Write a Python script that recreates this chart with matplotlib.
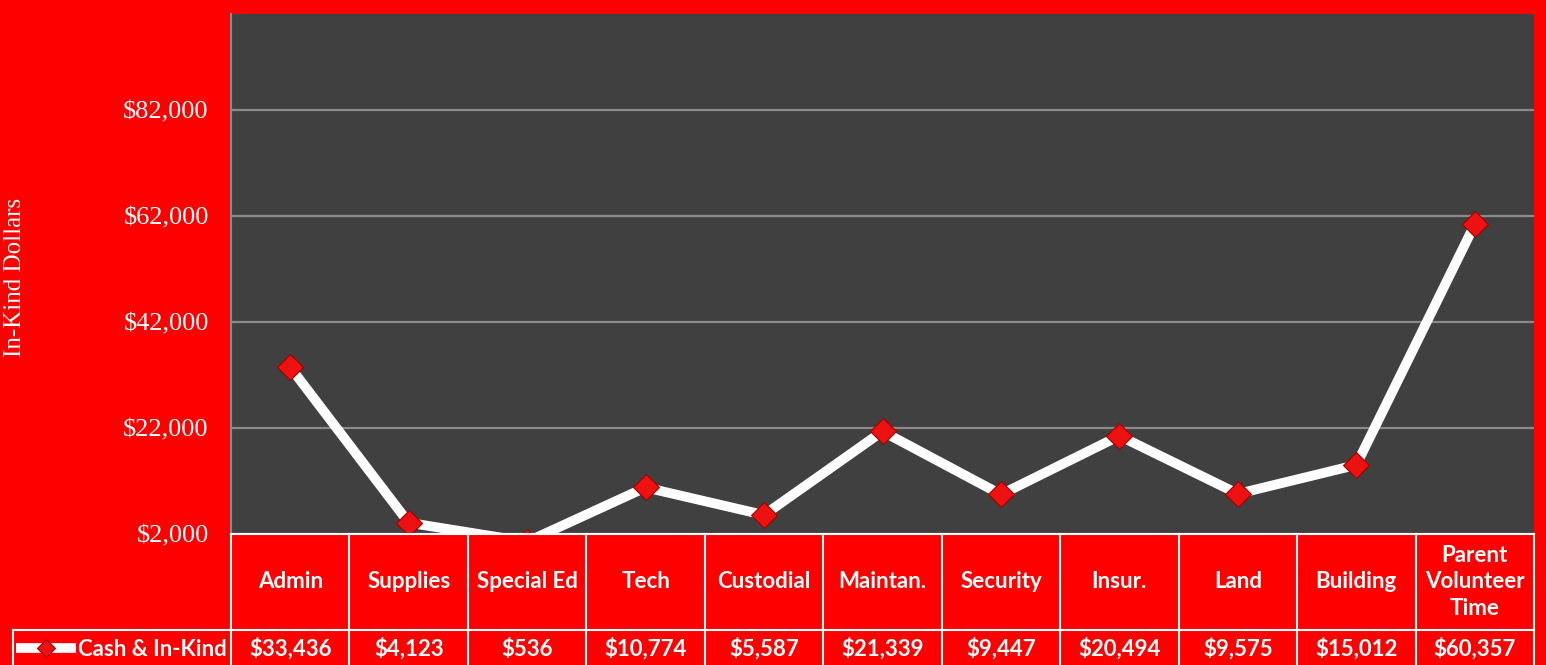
import matplotlib
matplotlib.use("Agg")
import matplotlib.pyplot as plt
from matplotlib.ticker import FuncFormatter
import matplotlib.transforms as mtransforms

# data
categories = ["Admin", "Supplies", "Special Ed", "Tech", "Custodial", "Maintan.",
              "Security", "Insur.", "Land", "Building", "Parent\nVolunteer\nTime"]
cash_in_kind = [33436, 4123, 536, 10774, 5587, 21339, 9447, 20494, 9575, 15012, 60357]
yticks = [2000, 22000, 42000, 62000, 82000]
series_name = "Cash & In-Kind"

RED = "#ff0000"
PLOT_BG = "#404040"

fig = plt.figure(figsize=(15.46, 6.65), dpi=100, facecolor=RED)
ax = fig.add_axes([231 / 1546, 131 / 665, 1303 / 1546, 520 / 665])
ax.set_facecolor(PLOT_BG)

x = list(range(len(categories)))
ax.plot(x, cash_in_kind, color="white", lw=7, solid_capstyle="butt", zorder=3,
        marker="D", markersize=13, markerfacecolor="#ee1111",
        markeredgecolor="#a00000", markeredgewidth=0.8, label=series_name)

ax.set_xlim(-0.5, len(categories) - 0.5)
ax.set_ylim(2000, 100000)
ax.set_yticks(yticks)
ax.yaxis.set_major_formatter(FuncFormatter(lambda v, p: "${:,.0f}".format(v)))
ax.tick_params(axis="y", length=0, pad=16, labelcolor="white", labelsize=19)
for lab in ax.get_yticklabels():
    lab.set_family("Liberation Serif")
ax.set_xticks([])
ax.grid(axis="y", color="#8a8a8a", lw=1.6, zorder=1)
for s in ["top", "right", "bottom"]:
    ax.spines[s].set_visible(False)
ax.spines["left"].set_color("#8a8a8a")
ax.spines["left"].set_linewidth(1.5)

fig.text(15 / 1546, 1 - 277 / 665, "In-Kind Dollars", rotation=90, ha="center",
         va="center", color="white", fontsize=18, family="Liberation Serif")

# data table under the plot
row1 = -96 / 520
row2 = -131 / 520
leg_left = (13 - 231) / 1303
trans = mtransforms.blended_transform_factory(ax.transData, ax.transAxes)
tbl_kw = dict(color="white", lw=1.5, clip_on=False, zorder=5)
for i in range(len(categories) + 1):
    ax.plot([i - 0.5, i - 0.5], [0, row2], transform=trans, **tbl_kw)
ax.plot([-0.5, len(categories) - 0.5], [0, 0], transform=trans, **tbl_kw)
ax.plot([leg_left, 1], [row1, row1], transform=ax.transAxes, **tbl_kw)
ax.plot([leg_left, leg_left], [row1, row2], transform=ax.transAxes, **tbl_kw)

txt_kw = dict(color="white", fontsize=16, fontweight="bold", family="Lato",
              ha="center", va="center", transform=trans, linespacing=1.3)
for i, (c, v) in enumerate(zip(categories, cash_in_kind)):
    ax.text(i, row1 / 2, c, **txt_kw)
    ax.text(i, row1 - 19 / 520, "${:,}".format(v), **txt_kw)

leg = ax.legend(loc="center left", bbox_to_anchor=(leg_left + 0.002, row1 - 19 / 520),
                frameon=False, handlelength=2.7, handletextpad=0.1, borderpad=0,
                borderaxespad=0, markerscale=0.7,
                prop={"family": "Lato", "weight": "bold", "size": 16})
for t in leg.get_texts():
    t.set_color("white")

fig.savefig("out.png", dpi=100, facecolor=RED)
